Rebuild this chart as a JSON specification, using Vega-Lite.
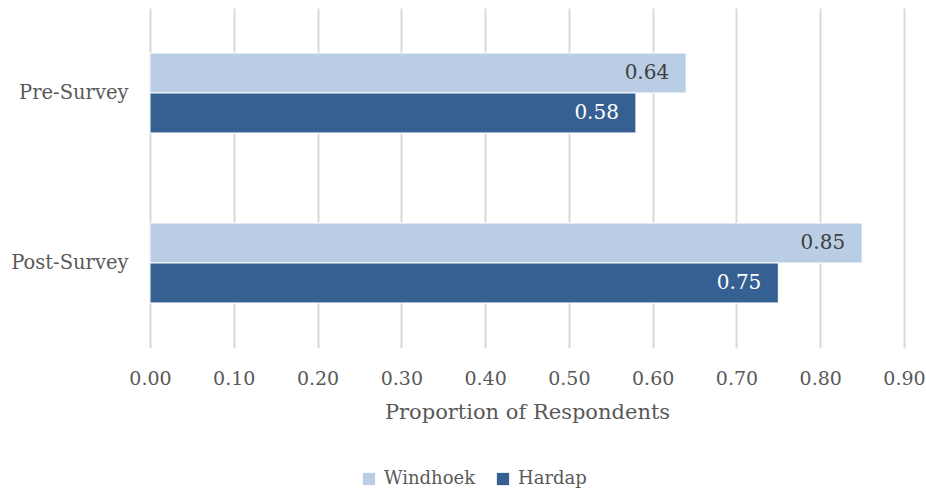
{
  "$schema": "https://vega.github.io/schema/vega-lite/v6.json",
  "width": 754,
  "height": 340,
  "autosize": {"type": "none"},
  "padding": {"left": 150, "top": 8, "right": 22, "bottom": 147},
  "background": "white",
  "config": {
    "font": "DejaVu Serif",
    "view": {"stroke": null}
  },
  "data": {
    "values": [
      {"period": "Pre-Survey", "site": "Windhoek", "value": 0.64},
      {"period": "Pre-Survey", "site": "Hardap", "value": 0.58},
      {"period": "Post-Survey", "site": "Windhoek", "value": 0.85},
      {"period": "Post-Survey", "site": "Hardap", "value": 0.75}
    ]
  },
  "encoding": {
    "y": {
      "field": "period",
      "type": "nominal",
      "sort": ["Pre-Survey", "Post-Survey"],
      "scale": {"paddingInner": 0.53, "paddingOuter": 0.265},
      "axis": {
        "title": null,
        "domain": false,
        "ticks": false,
        "labelFont": "DejaVu Serif",
        "labelFontSize": 19.5,
        "labelColor": "#595959",
        "labelPadding": 22
      }
    },
    "yOffset": {
      "field": "site",
      "type": "nominal",
      "sort": ["Windhoek", "Hardap"],
      "scale": {"paddingInner": 0, "paddingOuter": 0}
    },
    "x": {
      "field": "value",
      "type": "quantitative",
      "scale": {"domain": [0, 0.9], "nice": false},
      "axis": {
        "title": "Proportion of Respondents",
        "values": [0, 0.1, 0.2, 0.3, 0.4, 0.5, 0.6, 0.7, 0.8, 0.9],
        "format": ".2f",
        "domain": false,
        "ticks": false,
        "grid": true,
        "gridColor": "#d9d9d9",
        "gridWidth": 2,
        "labelFlush": false,
        "labelFont": "DejaVu Serif",
        "labelFontSize": 19,
        "labelColor": "#595959",
        "labelPadding": 21,
        "titleFont": "DejaVu Serif",
        "titleFontSize": 21,
        "titleFontWeight": "normal",
        "titleColor": "#595959",
        "titlePadding": 13
      }
    }
  },
  "layer": [
    {
      "mark": {"type": "bar", "stroke": "white", "strokeWidth": 1},
      "encoding": {
        "color": {
          "field": "site",
          "type": "nominal",
          "scale": {"domain": ["Windhoek", "Hardap"], "range": ["#b9cde5", "#376092"]},
          "legend": {
            "title": null,
            "orient": "none",
            "direction": "horizontal",
            "legendX": 210,
            "legendY": 462,
            "symbolType": "square",
            "symbolSize": 150,
            "symbolStrokeWidth": 0,
            "labelFont": "DejaVu Serif",
            "labelFontSize": 18,
            "labelColor": "#595959",
            "columnPadding": 18,
            "labelOffset": 6
          }
        }
      }
    },
    {
      "mark": {"type": "text", "align": "right", "baseline": "middle", "dx": -17, "fontSize": 20, "font": "DejaVu Serif"},
      "encoding": {
        "text": {"field": "value", "type": "quantitative", "format": ".2f"},
        "color": {
          "condition": {"test": "datum.site === 'Hardap'", "value": "white"},
          "value": "#404040"
        }
      }
    }
  ]
}
